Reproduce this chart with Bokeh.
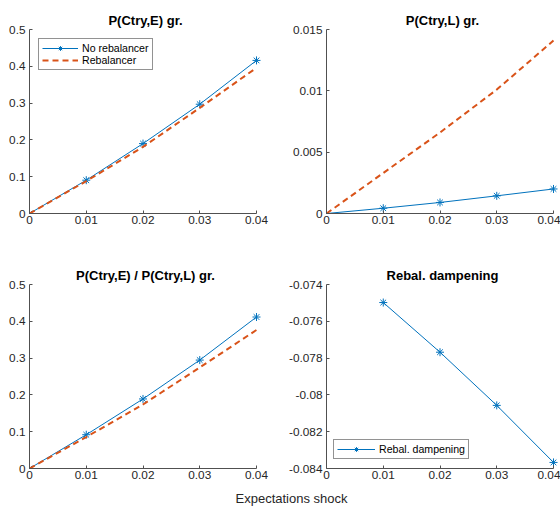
from bokeh.plotting import figure
from bokeh.layouts import column, row
from bokeh.models import Range1d, FixedTicker, CustomJSTickFormatter, Legend, LegendItem, Label
from bokeh.embed import file_html
from bokeh.resources import INLINE

# ---------------- data ----------------
shock = [0.0, 0.01, 0.02, 0.03, 0.04]
pe_norebal = [0.0, 0.0905, 0.190, 0.297, 0.416]
pe_rebal = [0.0, 0.088, 0.181, 0.287, 0.396]
pl_norebal = [0.0, 0.00043, 0.00090, 0.00144, 0.00200]
pl_rebal = [0.0, 0.0033, 0.0066, 0.0101, 0.0141]
ratio_norebal = [0.0, 0.0918, 0.189, 0.2946, 0.4116]
ratio_rebal = [0.0, 0.0855, 0.174, 0.2746, 0.3765]
damp_shock = [0.01, 0.02, 0.03, 0.04]
damp = [-0.07498, -0.07768, -0.08057, -0.08367]

x_ticks = [0.0, 0.01, 0.02, 0.03, 0.04]
pe_ticks = [0.0, 0.1, 0.2, 0.3, 0.4, 0.5]
pl_ticks = [0.0, 0.005, 0.01, 0.015]
damp_ticks = [-0.084, -0.082, -0.08, -0.078, -0.076, -0.074]

titles = ["P(Ctry,E) gr.", "P(Ctry,L) gr.", "P(Ctry,E) / P(Ctry,L) gr.", "Rebal. dampening"]
legend_labels = ["No rebalancer", "Rebalancer", "Rebal. dampening"]
x_label = "Expectations shock"

# ---------------- style ----------------
BLUE = "#0072BD"
ORANGE = "#D95319"
AX = "#262626"
AXLINE = "#505050"
FONT = "Liberation Sans"
AXW, AXH = 227, 184      # axes size in px
PAD = 5                  # extra room on the right so edge markers are not clipped
FW, FH = AXW + PAD, AXH

fmt = CustomJSTickFormatter(code="return String(parseFloat(tick.toFixed(6)));")


def panel(title, ylo, yhi, yticks, col, rowi):
    left = 29 if col == 0 else 46
    right = 280 - left - FW
    top = 29
    bottom = 42 if rowi == 0 else 22
    xpad = (x_ticks[-1] - x_ticks[0]) * PAD / AXW
    p = figure(width=280, height=top + FH + bottom,
               x_range=Range1d(x_ticks[0], x_ticks[-1] + xpad),
               y_range=Range1d(ylo, yhi),
               toolbar_location=None, output_backend="svg",
               min_border_left=left, min_border_right=right,
               min_border_top=top, min_border_bottom=bottom)
    p.outline_line_color = None
    p.background_fill_color = "white"
    p.border_fill_color = "white"
    p.xgrid.visible = False
    p.ygrid.visible = False
    p.title.text = title
    p.title.align = "center"
    p.title.offset = -PAD / 2
    p.title.text_font = FONT
    p.title.text_font_size = "13px"
    p.title.text_font_style = "bold"
    p.title.text_color = "black"
    p.title.standoff = 3
    for ax, ticks, b in ((p.xaxis[0], x_ticks, (x_ticks[0], x_ticks[-1])),
                         (p.yaxis[0], yticks, (ylo, yhi))):
        ax.ticker = FixedTicker(ticks=ticks)
        ax.formatter = fmt
        ax.bounds = b
        ax.axis_line_color = AXLINE
        ax.axis_line_width = 1
        ax.major_tick_line_color = AXLINE
        ax.major_tick_in = 3
        ax.major_tick_out = 0
        ax.minor_tick_line_color = None
        ax.major_label_text_font = FONT
        ax.major_label_text_font_size = "11.8px"
        ax.major_label_text_color = AX
    p.xaxis.major_label_standoff = 2
    p.yaxis.major_label_standoff = 4
    return p


def add_series(p, xs, ys):
    ln = p.line(xs, ys, line_color=BLUE, line_width=1)
    sc = p.scatter(xs, ys, marker="asterisk", size=8, line_color=BLUE, line_width=1)
    return [ln, sc]


def add_dashed(p, xs, ys):
    return [p.line(xs, ys, line_color=ORANGE, line_width=2, line_dash="6 4")]


def make_legend(items, vx, vy, glyph_w):
    lg = Legend(items=items, location=(vx, vy), padding=3, spacing=0,
                label_height=12, glyph_height=12, glyph_width=glyph_w,
                label_standoff=4, margin=0,
                label_text_font=FONT, label_text_font_size="10.6px",
                label_text_color="black",
                border_line_color="#262626", border_line_width=1,
                background_fill_color="white", background_fill_alpha=1)
    return lg


p1 = panel(titles[0], pe_ticks[0], pe_ticks[-1], pe_ticks, 0, 0)
r1 = add_series(p1, shock, pe_norebal)
r2 = add_dashed(p1, shock, pe_rebal)
p1.add_layout(make_legend([LegendItem(label=legend_labels[0], renderers=r1),
                           LegendItem(label=legend_labels[1], renderers=r2)],
                          9, FH - 11 - 30, 36))

p2 = panel(titles[1], pl_ticks[0], pl_ticks[-1], pl_ticks, 1, 0)
add_series(p2, shock, pl_norebal)
add_dashed(p2, shock, pl_rebal)

p3 = panel(titles[2], pe_ticks[0], pe_ticks[-1], pe_ticks, 0, 1)
add_series(p3, shock, ratio_norebal)
add_dashed(p3, shock, ratio_rebal)

p4 = panel(titles[3], damp_ticks[0], damp_ticks[-1], damp_ticks, 1, 1)
r4 = add_series(p4, damp_shock, damp)
p4.add_layout(make_legend([LegendItem(label=legend_labels[2], renderers=r4)],
                          7, 9, 38))

lab = figure(width=560, height=16, x_range=Range1d(0, 560), y_range=Range1d(0, 16),
             toolbar_location=None, output_backend="svg", min_border=0,
             x_axis_type=None, y_axis_type=None)
lab.outline_line_color = None
lab.xgrid.visible = False
lab.ygrid.visible = False
lab.add_layout(Label(x=291, y=8, text=x_label, text_align="center", text_baseline="middle",
                     text_font=FONT, text_font_size="13px", text_color=AX))

layout = column(row(p1, p2), row(p3, p4), lab)
open("out.html", "w").write(file_html(layout, INLINE))
